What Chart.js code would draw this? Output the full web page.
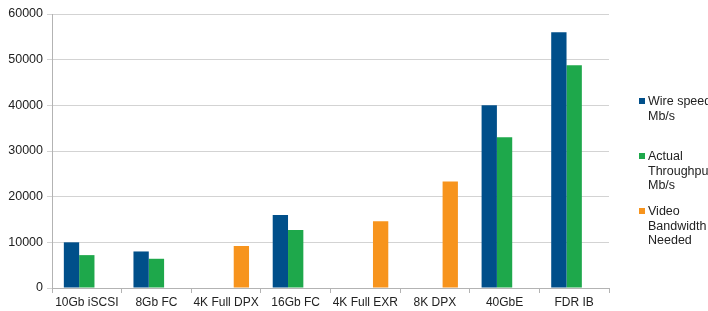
<!DOCTYPE html>
<html>
<head>
<meta charset="utf-8">
<script src="https://cdn.jsdelivr.net/npm/chart.js@4/dist/chart.umd.min.js"></script>
<style>
  html, body { margin: 0; padding: 0; background: #fff; }
  #wrap { position: relative; width: 708px; height: 311px; overflow: hidden; }
  #legend { position: absolute; left: 638px; top: 0; font-family: "Liberation Sans", Arial, sans-serif; font-size: 12.5px; color: #222; line-height: 14.5px; white-space: nowrap; }
  .item { position: absolute; left: 0; }
  .box { position: absolute; left: 1px; top: 4px; width: 6px; height: 6px; }
  .txt { position: absolute; left: 10px; top: 0; }
</style>
</head>
<body>
<div id="wrap">
  <canvas id="chartCanvas" width="708" height="311"></canvas>
  <div id="legend"></div>
</div>
<script>
const categories = ['10Gb iSCSI', '8Gb FC', '4K Full DPX', '16Gb FC', '4K Full EXR', '8K DPX', '40GbE', 'FDR IB'];
const wireSpeed = [10000, 8000, null, 16000, null, null, 40000, 56000];
const actualThroughput = [7200, 6400, null, 12700, null, null, 33000, 48800];
const videoBandwidth = [null, null, 9200, null, 14600, 23300, null, null];
const seriesNames = [['Wire speed', 'Mb/s'], ['Actual', 'Throughput', 'Mb/s'], ['Video', 'Bandwidth', 'Needed']];
const seriesColors = ['#004f8a', '#1ea84b', '#f7941d'];

const ctx = document.getElementById('chartCanvas').getContext('2d');
const chart = new Chart(ctx, {
    type: 'bar',
    data: {
        labels: categories,
        datasets: [
            { label: seriesNames[0].join(' '), data: wireSpeed, backgroundColor: seriesColors[0] },
            { label: seriesNames[1].join(' '), data: actualThroughput, backgroundColor: seriesColors[1] },
            { label: seriesNames[2].join(' '), data: videoBandwidth, backgroundColor: seriesColors[2] }
        ]
    },
    options: {
        responsive: false,
        animation: false,
        layout: { padding: { top: 14, right: 99, left: 0, bottom: 0 } },
        datasets: { bar: { categoryPercentage: 0.66, barPercentage: 1.0 } },
        plugins: { legend: { display: false }, tooltip: { enabled: false } },
        scales: {
            x: {
                grid: { offset: true, drawOnChartArea: false, tickLength: 5, color: '#b3b3b3' },
                border: { color: '#b3b3b3' },
                ticks: { color: '#222', padding: 2, font: { family: 'Liberation Sans', size: 12 }, maxRotation: 0, autoSkip: false },
                afterFit: (scale) => { scale.height = 23; }
            },
            y: {
                min: 0,
                max: 60000,
                ticks: {
                    stepSize: 10000, color: '#222', padding: 4,
                    font: { family: 'Liberation Sans', size: 12.5 },
                    callback: (value) => String(value)
                },
                grid: { color: '#d3d3d3', tickLength: 5 },
                border: { color: '#b3b3b3' },
                afterFit: (scale) => { scale.width = 52; }
            }
        }
    }
});

// legend with wrapped labels, placed beside the chart
const legendTops = [94, 149, 204];
const legend = document.getElementById('legend');
seriesNames.forEach((lines, i) => {
    const item = document.createElement('div');
    item.className = 'item';
    item.style.top = legendTops[i] + 'px';
    const box = document.createElement('div');
    box.className = 'box';
    box.style.background = seriesColors[i];
    const txt = document.createElement('div');
    txt.className = 'txt';
    txt.innerHTML = lines.join('<br>');
    item.appendChild(box);
    item.appendChild(txt);
    legend.appendChild(item);
});
</script>
</body>
</html>
